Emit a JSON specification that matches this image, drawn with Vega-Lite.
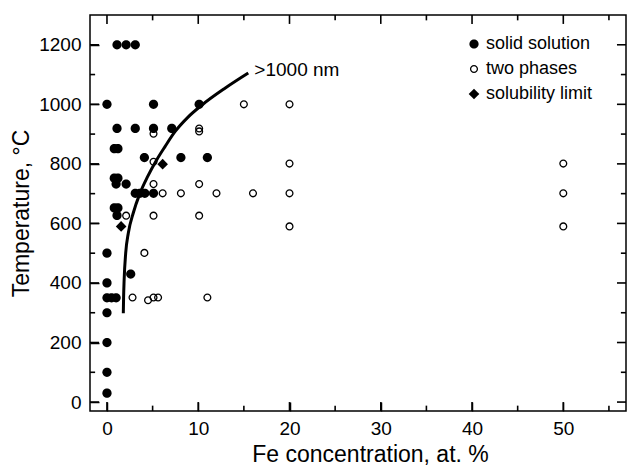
{
  "$schema": "https://vega.github.io/schema/vega-lite/v6.json",
  "width": 536,
  "height": 396,
  "autosize": {"type": "none"},
  "padding": {"left": 90, "top": 15, "right": 1, "bottom": 54},
  "background": "white",
  "config": {
    "font": "Liberation Sans",
    "view": {"stroke": "black", "strokeWidth": 1.5},
    "axis": {
      "domain": false,
      "grid": false,
      "labelColor": "black",
      "titleColor": "black",
      "labelFont": "Liberation Sans",
      "titleFont": "Liberation Sans",
      "labelFontSize": 19,
      "titleFontSize": 23,
      "titleFontWeight": "normal",
      "labelOverlap": false,
      "labelFlush": false,
      "format": "d"
    }
  },
  "datasets": {
    "pts": [
      {"x": 0, "y": 30, "phase": "solid solution"},
      {"x": 0, "y": 100, "phase": "solid solution"},
      {"x": 0, "y": 200, "phase": "solid solution"},
      {"x": 0, "y": 300, "phase": "solid solution"},
      {"x": 0, "y": 350, "phase": "solid solution"},
      {"x": 0.5, "y": 350, "phase": "solid solution"},
      {"x": 1, "y": 350, "phase": "solid solution"},
      {"x": 0, "y": 400, "phase": "solid solution"},
      {"x": 0, "y": 500, "phase": "solid solution"},
      {"x": 2.6, "y": 430, "phase": "solid solution"},
      {"x": 1.1, "y": 627, "phase": "solid solution"},
      {"x": 0.8, "y": 652, "phase": "solid solution"},
      {"x": 1.2, "y": 652, "phase": "solid solution"},
      {"x": 1, "y": 732, "phase": "solid solution"},
      {"x": 2.1, "y": 732, "phase": "solid solution"},
      {"x": 0.8, "y": 752, "phase": "solid solution"},
      {"x": 1.2, "y": 752, "phase": "solid solution"},
      {"x": 0.8, "y": 851, "phase": "solid solution"},
      {"x": 1.2, "y": 851, "phase": "solid solution"},
      {"x": 1.1, "y": 919, "phase": "solid solution"},
      {"x": 3.1, "y": 919, "phase": "solid solution"},
      {"x": 5.1, "y": 919, "phase": "solid solution"},
      {"x": 7.1, "y": 919, "phase": "solid solution"},
      {"x": 0, "y": 1000, "phase": "solid solution"},
      {"x": 5.1, "y": 1000, "phase": "solid solution"},
      {"x": 10.1, "y": 1000, "phase": "solid solution"},
      {"x": 1.1, "y": 1200, "phase": "solid solution"},
      {"x": 2.1, "y": 1200, "phase": "solid solution"},
      {"x": 3.1, "y": 1200, "phase": "solid solution"},
      {"x": 3.1, "y": 701, "phase": "solid solution"},
      {"x": 3.6, "y": 701, "phase": "solid solution"},
      {"x": 4.15, "y": 701, "phase": "solid solution"},
      {"x": 5.1, "y": 701, "phase": "solid solution"},
      {"x": 4.1, "y": 821, "phase": "solid solution"},
      {"x": 8.1, "y": 821, "phase": "solid solution"},
      {"x": 11, "y": 821, "phase": "solid solution"},
      {"x": 2.8, "y": 351, "phase": "two phases"},
      {"x": 4.5, "y": 342, "phase": "two phases"},
      {"x": 5.1, "y": 351, "phase": "two phases"},
      {"x": 5.6, "y": 351, "phase": "two phases"},
      {"x": 11, "y": 351, "phase": "two phases"},
      {"x": 4.1, "y": 501, "phase": "two phases"},
      {"x": 2.1, "y": 626, "phase": "two phases"},
      {"x": 5.1, "y": 626, "phase": "two phases"},
      {"x": 10.1, "y": 626, "phase": "two phases"},
      {"x": 5.1, "y": 732, "phase": "two phases"},
      {"x": 10.1, "y": 732, "phase": "two phases"},
      {"x": 6.1, "y": 701, "phase": "two phases"},
      {"x": 8.1, "y": 701, "phase": "two phases"},
      {"x": 12, "y": 701, "phase": "two phases"},
      {"x": 16, "y": 701, "phase": "two phases"},
      {"x": 20, "y": 701, "phase": "two phases"},
      {"x": 5.1, "y": 807, "phase": "two phases"},
      {"x": 20, "y": 801, "phase": "two phases"},
      {"x": 5.1, "y": 901, "phase": "two phases"},
      {"x": 10.1, "y": 919, "phase": "two phases"},
      {"x": 10.1, "y": 909, "phase": "two phases"},
      {"x": 15, "y": 1000, "phase": "two phases"},
      {"x": 20, "y": 1000, "phase": "two phases"},
      {"x": 20, "y": 590, "phase": "two phases"},
      {"x": 50, "y": 801, "phase": "two phases"},
      {"x": 50, "y": 701, "phase": "two phases"},
      {"x": 50, "y": 590, "phase": "two phases"},
      {"x": 1.55, "y": 590, "phase": "solubility limit"},
      {"x": 6.1, "y": 799, "phase": "solubility limit"}
    ],
    "curve": [
      {"x": 1.79, "y": 298},
      {"x": 1.82, "y": 350},
      {"x": 1.88, "y": 410},
      {"x": 2.05, "y": 500},
      {"x": 2.34, "y": 568},
      {"x": 2.88, "y": 635},
      {"x": 3.6, "y": 700},
      {"x": 4.45, "y": 757},
      {"x": 5.44, "y": 813},
      {"x": 6.36, "y": 858},
      {"x": 7.45, "y": 908},
      {"x": 8.91, "y": 958},
      {"x": 10.38, "y": 997},
      {"x": 12.93, "y": 1054},
      {"x": 15.48, "y": 1105}
    ],
    "lab": [{"x": 16.15, "y": 1095, "text": ">1000 nm"}],
    "xmaj": [{"v": 0}, {"v": 10}, {"v": 20}, {"v": 30}, {"v": 40}, {"v": 50}],
    "xmin": [{"v": 5}, {"v": 15}, {"v": 25}, {"v": 35}, {"v": 45}, {"v": 55}],
    "ymaj": [{"v": 0}, {"v": 200}, {"v": 400}, {"v": 600}, {"v": 800}, {"v": 1000}, {"v": 1200}],
    "ymin": [{"v": 100}, {"v": 300}, {"v": 500}, {"v": 700}, {"v": 900}, {"v": 1100}]
  },
  "layer": [
    {
      "mark": {"type": "rule", "color": "black", "strokeWidth": 1},
      "encoding": {
        "x": {"datum": 0, "type": "quantitative", "scale": {"domain": [-1.86, 56.87], "nice": false, "zero": false}, "axis": null}
      }
    },
    {
      "data": {"name": "pts"},
      "mark": {"type": "point", "filled": true, "color": "black", "size": 85, "opacity": 1, "strokeWidth": 0},
      "encoding": {
        "x": {
          "field": "x", "type": "quantitative",
          "scale": {"domain": [-1.86, 56.87], "nice": false, "zero": false},
          "axis": {
            "orient": "bottom",
            "title": "Fe concentration, at. %",
            "values": [0, 10, 20, 30, 40, 50],
            "ticks": true, "tickSize": 9, "offset": -9, "tickColor": "black", "tickWidth": 1.5,
            "labelPadding": 8,
            "titleX": 280,
            "titleY": 59,
            "titleBaseline": "alphabetic",
            "titleAlign": "center"
          }
        },
        "y": {
          "field": "y", "type": "quantitative",
          "scale": {"domain": [-30, 1300], "nice": false, "zero": false},
          "axis": {
            "orient": "left",
            "title": "Temperature, °C",
            "values": [0, 200, 400, 600, 800, 1000, 1200],
            "ticks": true, "tickSize": 9, "offset": -9, "tickColor": "black", "tickWidth": 1.5,
            "labelPadding": 9,
            "titleX": -71,
            "titleY": 198,
            "titleAngle": 270,
            "titleBaseline": "alphabetic",
            "titleAlign": "center"
          }
        },
        "shape": {
          "field": "phase", "type": "nominal", "title": null,
          "scale": {
            "domain": ["solid solution", "two phases", "solubility limit"],
            "range": [
              "M-1,0A1,1,0,1,1,1,0A1,1,0,1,1,-1,0Z",
              "M-0.88,0A0.88,0.88,0,1,1,0.88,0A0.88,0.88,0,1,1,-0.88,0ZM-0.6,0A0.6,0.6,0,1,0,0.6,0A0.6,0.6,0,1,0,-0.6,0Z",
              "M-1.15,0L0,-1.15L1.15,0L0,1.15Z"
            ]
          },
          "legend": {"orient": "none", "legendX": 375, "legendY": 20, "padding": 0, "labelFontSize": 18, "labelColor": "black", "labelFont": "Liberation Sans", "symbolFillColor": "black", "symbolStrokeWidth": 0, "symbolSize": 85, "rowPadding": 7, "labelOffset": 3}
        }
      }
    },
    {
      "data": {"name": "xmaj"},
      "mark": {"type": "rule", "color": "black", "strokeWidth": 1.6},
      "encoding": {
        "x": {"field": "v", "type": "quantitative", "axis": null},
        "y": {"datum": -30, "type": "quantitative", "axis": null},
        "y2": {"datum": 0}
      }
    },
    {
      "data": {"name": "xmaj"},
      "mark": {"type": "rule", "color": "black", "strokeWidth": 1.6},
      "encoding": {
        "x": {"field": "v", "type": "quantitative", "axis": null},
        "y": {"datum": 1300, "type": "quantitative", "axis": null},
        "y2": {"datum": 1270}
      }
    },
    {
      "data": {"name": "xmin"},
      "mark": {"type": "rule", "color": "black", "strokeWidth": 1.6},
      "encoding": {
        "x": {"field": "v", "type": "quantitative", "axis": null},
        "y": {"datum": -30, "type": "quantitative", "axis": null},
        "y2": {"datum": -12}
      }
    },
    {
      "data": {"name": "xmin"},
      "mark": {"type": "rule", "color": "black", "strokeWidth": 1.6},
      "encoding": {
        "x": {"field": "v", "type": "quantitative", "axis": null},
        "y": {"datum": 1300, "type": "quantitative", "axis": null},
        "y2": {"datum": 1282}
      }
    },
    {
      "data": {"name": "ymaj"},
      "mark": {"type": "rule", "color": "black", "strokeWidth": 1.6},
      "encoding": {
        "y": {"field": "v", "type": "quantitative", "axis": null},
        "x": {"datum": -1.86, "type": "quantitative", "axis": null},
        "x2": {"datum": -0.87}
      }
    },
    {
      "data": {"name": "ymaj"},
      "mark": {"type": "rule", "color": "black", "strokeWidth": 1.6},
      "encoding": {
        "y": {"field": "v", "type": "quantitative", "axis": null},
        "x": {"datum": 56.87, "type": "quantitative", "axis": null},
        "x2": {"datum": 55.88}
      }
    },
    {
      "data": {"name": "ymin"},
      "mark": {"type": "rule", "color": "black", "strokeWidth": 1.6},
      "encoding": {
        "y": {"field": "v", "type": "quantitative", "axis": null},
        "x": {"datum": -1.86, "type": "quantitative", "axis": null},
        "x2": {"datum": -1.3}
      }
    },
    {
      "data": {"name": "ymin"},
      "mark": {"type": "rule", "color": "black", "strokeWidth": 1.6},
      "encoding": {
        "y": {"field": "v", "type": "quantitative", "axis": null},
        "x": {"datum": 56.87, "type": "quantitative", "axis": null},
        "x2": {"datum": 56.31}
      }
    },
    {
      "data": {"name": "curve"},
      "mark": {"type": "line", "color": "black", "strokeWidth": 3, "interpolate": "monotone"},
      "encoding": {
        "x": {"field": "x", "type": "quantitative", "axis": null},
        "y": {"field": "y", "type": "quantitative", "axis": null}
      }
    },
    {
      "data": {"name": "lab"},
      "mark": {"type": "text", "align": "left", "baseline": "alphabetic", "fontSize": 19, "font": "Liberation Sans", "color": "black"},
      "encoding": {
        "x": {"field": "x", "type": "quantitative", "axis": null},
        "y": {"field": "y", "type": "quantitative", "axis": null},
        "text": {"field": "text"}
      }
    }
  ],
  "resolve": {"axis": {"x": "independent", "y": "independent"}}
}
